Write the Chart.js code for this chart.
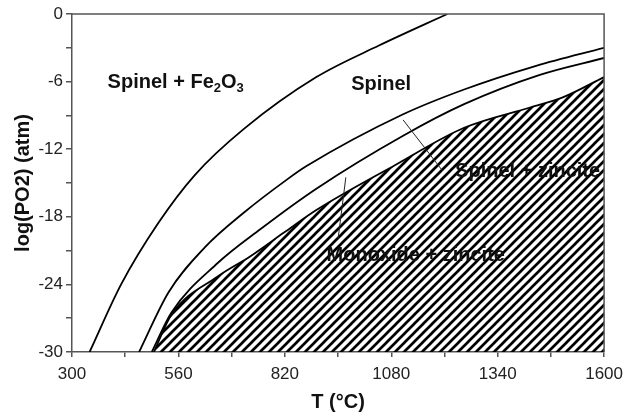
<!DOCTYPE html>
<html>
<head>
<meta charset="utf-8">
<script src="https://cdn.jsdelivr.net/npm/chart.js@4.4.1/dist/chart.umd.min.js"></script>
<style>
  html, body { margin: 0; padding: 0; background: #fff; }
  #wrap { width: 630px; height: 417px; }
</style>
</head>
<body>
<div id="wrap"><canvas id="c" width="630" height="417"></canvas></div>
<script>
// ---- Data ----
const curve1T = [343, 420, 510, 600, 720, 897, 1050, 1217];
const curve1Y = [-30, -24.0, -18.6, -14.3, -10.2, -5.6, -2.8, 0];

const curve2T = [464, 536, 625, 721, 825, 873, 1109, 1258, 1434, 1600];
const curve2Y = [-30, -24.7, -20.7, -17.6, -14.7, -13.5, -8.9, -6.7, -4.6, -3.0];

const curve3T = [495, 543, 656, 760, 897, 1109, 1258, 1443, 1600];
const curve3Y = [-30, -26.5, -22.1, -19.1, -15.5, -10.8, -8.0, -5.4, -3.9];

const curve4T = [500, 543, 656, 736, 818, 897, 1090, 1258, 1419, 1499, 1600];
const curve4Y = [-30, -26.7, -23.3, -21.5, -19.4, -17.4, -13.4, -10.1, -8.3, -7.4, -5.6];

const xTickLabels = [300, 560, 820, 1080, 1340, 1600];
const yTickLabels = [0, -6, -12, -18, -24, -30];

const labelTexts = ['Spinel + Fe2O3', 'Spinel', 'Spinel + zincite', 'Monoxide + zincite'];
const labelT = [387, 982, 1236, 922];
const labelY = [-6.1, -6.3, -14.0, -21.4];

const pointerT0 = [1109, 969];
const pointerY0 = [-9.4, -14.5];
const pointerT1 = [1205, 950];
const pointerY1 = [-13.9, -20.0];

// ---- helpers ----
function pts(T, Y) { return T.map((t, i) => ({ x: t, y: Y[i] })); }

const ctx = document.getElementById('c').getContext('2d');

function makeHatch() {
  const s = 9;
  const c = document.createElement('canvas');
  c.width = s; c.height = s;
  const g = c.getContext('2d');
  g.strokeStyle = '#000';
  g.lineWidth = 2.7;
  g.beginPath();
  g.moveTo(-1, s + 1); g.lineTo(s + 1, -1);
  g.moveTo(-2, 2); g.lineTo(2, -2);
  g.moveTo(s - 2, s + 2); g.lineTo(s + 2, s - 2);
  g.stroke();
  return ctx.createPattern(c, 'repeat');
}

const AXIS = '#555';
const FONT = "'Liberation Sans', Arial, Helvetica, sans-serif";

const lineStyle = {
  borderColor: '#000',
  borderWidth: 1.8,
  pointRadius: 0,
  cubicInterpolationMode: 'monotone',
  fill: false
};

const annotPlugin = {
  id: 'annot',
  afterDatasetsDraw(chart) {
    const g = chart.ctx;
    const xs = chart.scales.x, ys = chart.scales.y;
    g.save();
    g.strokeStyle = '#222';
    g.lineWidth = 1;
    for (let i = 0; i < pointerT0.length; i++) {
      g.beginPath();
      g.moveTo(xs.getPixelForValue(pointerT0[i]), ys.getPixelForValue(pointerY0[i]));
      g.lineTo(xs.getPixelForValue(pointerT1[i]), ys.getPixelForValue(pointerY1[i]));
      g.stroke();
    }
    const size = 20;
    g.fillStyle = '#111';
    g.textBaseline = 'middle';
    g.textAlign = 'left';
    for (let i = 0; i < labelTexts.length; i++) {
      let x = xs.getPixelForValue(labelT[i]);
      const y = ys.getPixelForValue(labelY[i]);
      for (const ch of labelTexts[i]) {
        if (/[0-9]/.test(ch)) {
          g.font = 'bold ' + Math.round(size * 0.66) + 'px ' + FONT;
          g.fillText(ch, x, y + size * 0.3);
        } else {
          g.font = 'bold ' + size + 'px ' + FONT;
          g.fillText(ch, x, y);
        }
        x += g.measureText(ch).width;
      }
    }
    g.restore();
  },
  afterDraw(chart) {
    const a = chart.chartArea;
    const g = chart.ctx;
    g.save();
    g.strokeStyle = AXIS;
    g.lineWidth = 1.5;
    g.beginPath();
    g.moveTo(a.left, a.top); g.lineTo(a.right, a.top); g.lineTo(a.right, a.bottom);
    g.stroke();
    g.restore();
  }
};

new Chart(ctx, {
  type: 'line',
  data: {
    datasets: [
      Object.assign({ data: pts(curve4T, curve4Y), backgroundColor: makeHatch() }, lineStyle, { fill: 'start' }),
      Object.assign({ data: pts(curve1T, curve1Y) }, lineStyle),
      Object.assign({ data: pts(curve2T, curve2Y) }, lineStyle),
      Object.assign({ data: pts(curve3T, curve3Y) }, lineStyle)
    ]
  },
  options: {
    responsive: false,
    animation: false,
    devicePixelRatio: 1,
    layout: { padding: { left: 0, top: 14, right: 18, bottom: 0 } },
    plugins: { legend: { display: false }, tooltip: { enabled: false } },
    scales: {
      x: {
        type: 'linear',
        min: 300, max: 1600,
        afterFit(s) { s.height = 65; },
        border: { display: true, color: AXIS, width: 1.5 },
        grid: { drawOnChartArea: false, drawTicks: true, tickLength: 5, color: AXIS, lineWidth: 1.5 },
        ticks: {
          stepSize: 130, autoSkip: false, maxRotation: 0, padding: 7,
          color: '#222', font: { family: FONT, size: 17 },
          callback: (v) => xTickLabels.includes(v) ? String(v) : ''
        },
        title: { display: true, text: 'T (°C)', color: '#111', font: { family: FONT, size: 20, weight: 'bold' }, padding: { top: 0, bottom: 3 } }
      },
      y: {
        type: 'linear',
        min: -30, max: 0,
        afterFit(s) { s.width = 72; },
        border: { display: true, color: AXIS, width: 1.5 },
        grid: { drawOnChartArea: false, drawTicks: true, tickLength: 6, color: AXIS, lineWidth: 1.5 },
        ticks: {
          stepSize: 3, autoSkip: false, padding: 3,
          color: '#222', font: { family: FONT, size: 17 },
          callback: (v) => yTickLabels.includes(v) ? String(v) : ''
        },
        title: { display: true, text: 'log(PO2) (atm)', color: '#111', font: { family: FONT, size: 20, weight: 'bold' }, padding: { top: 11, bottom: 0 } }
      }
    }
  },
  plugins: [annotPlugin]
});
</script>
</body>
</html>
